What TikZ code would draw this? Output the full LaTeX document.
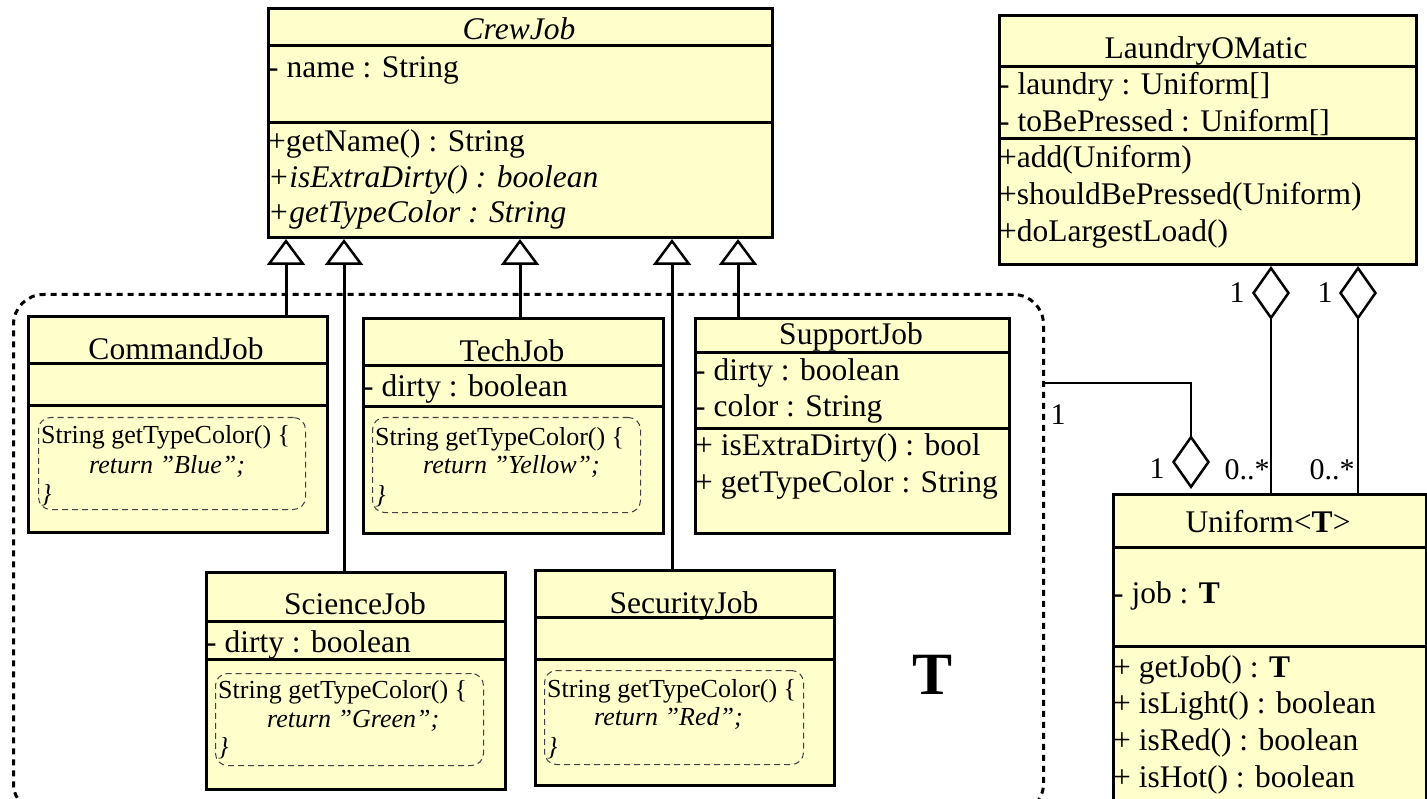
\documentclass[tikz,border=0pt]{standalone}
\usepackage{fontspec}
\setmainfont{Liberation Serif}
\usetikzlibrary{arrows.meta}
\definecolor{umlfill}{HTML}{FFFFCC}
\newcommand\mainsz{\fontsize{31.5}{36}\selectfont}
\newcommand\codesz{\fontsize{26}{30}\selectfont}
\newcommand\lblsz{\fontsize{30}{34}\selectfont}
\begin{document}
\begin{tikzpicture}[x=1pt,y=-1pt,
  box/.style={draw, line width=3pt, fill=umlfill, anchor=north west, inner sep=0},
  div/.style={line width=3pt},
  txt/.style={anchor=base west, inner sep=0, font=\mainsz},
  ttl/.style={anchor=base, inner sep=0, font=\mainsz},
  code/.style={anchor=base west, inner sep=0, font=\codesz},
  codebox/.style={draw=black!75, line width=1pt, dash pattern=on 6pt off 4pt, rounded corners=12pt, anchor=north west, inner sep=0},
  inh/.style={line width=3pt, -{Triangle[open, length=26pt, width=38pt, line width=2.5pt]}},
  agg/.style={line width=2pt, {Diamond[open, length=54pt, width=38pt, line width=2.5pt]}-},
  grp/.style={draw, line width=3pt, dash pattern=on 6pt off 5pt, rounded corners=30pt, anchor=north west, inner sep=0},
  lbl/.style={inner sep=0, font=\lblsz}]
\useasboundingbox (0,0) rectangle (1427,799);

% group
\node[grp, minimum width=1030pt, minimum height=519pt] (grp) at (12,293) {};

% CrewJob
\node[box, minimum width=504pt, minimum height=229pt] (crew) at (267,7) {};
\draw[div] (267,46) -- (771,46);
\draw[div] (267,123) -- (771,123);
\node[ttl, font=\mainsz\itshape] (crewt) at (519,40) {CrewJob};
\node[txt] (crewa) at (268,78) {- name : String};
\node[txt] (crewm1) at (268,152) {+getName() : String};
\node[txt, font=\mainsz\itshape] (crewm2) at (268,188) {+isExtraDirty() : boolean};
\node[txt, font=\mainsz\itshape] (crewm3) at (268,223) {+getTypeColor : String};

% CommandJob
\node[box, minimum width=299pt, minimum height=216pt] (cmd) at (27,315) {};
\draw[div] (27,364) -- (326,364);
\draw[div] (27,406) -- (326,406);
\node[ttl] (cmdt) at (176,360) {CommandJob};
\node[codebox, minimum width=267pt, minimum height=92pt] (cmdc) at (38,417) {};
\node[code] (cmdc1) at (41,443) {String getTypeColor() \{};
\node[code, font=\codesz\itshape] (cmdc2) at (89,473) {return ”Blue”;};
\node[code, font=\codesz\itshape] (cmdc3) at (41,502) {\}};

% TechJob
\node[box, minimum width=300pt, minimum height=215pt] (tech) at (362,317) {};
\draw[div] (362,366) -- (662,366);
\draw[div] (362,407) -- (662,407);
\node[ttl] (techt) at (512,362) {TechJob};
\node[txt] (techa) at (363,397) {- dirty : boolean};
\node[codebox, minimum width=268pt, minimum height=95pt] (techc) at (372,417) {};
\node[code] (techc1) at (375,445) {String getTypeColor() \{};
\node[code, font=\codesz\itshape] (techc2) at (423,473) {return ”Yellow”;};
\node[code, font=\codesz\itshape] (techc3) at (375,503) {\}};

% SupportJob
\node[box, minimum width=314pt, minimum height=215pt] (sup) at (694,317) {};
\draw[div] (694,353) -- (1008,353);
\draw[div] (694,428) -- (1008,428);
\node[ttl] (supt) at (851,345) {SupportJob};
\node[txt] (supa1) at (695,381) {- dirty : boolean};
\node[txt] (supa2) at (695,417) {- color : String};
\node[txt] (supm1) at (695,455) {+ isExtraDirty() : bool};
\node[txt] (supm2) at (695,492) {+ getTypeColor : String};

% ScienceJob
\node[box, minimum width=299pt, minimum height=217pt] (sci) at (205,571) {};
\draw[div] (205,621) -- (504,621);
\draw[div] (205,659) -- (504,659);
\node[ttl] (scit) at (355,614) {ScienceJob};
\node[txt] (scia) at (206,652) {- dirty : boolean};
\node[codebox, minimum width=268pt, minimum height=92pt] (scic) at (215,673) {};
\node[code] (scic1) at (218,698) {String getTypeColor() \{};
\node[code, font=\codesz\itshape] (scic2) at (267,727) {return ”Green”;};
\node[code, font=\codesz\itshape] (scic3) at (218,755) {\}};

% SecurityJob
\node[box, minimum width=299pt, minimum height=215pt] (sec) at (534,569) {};
\draw[div] (534,617) -- (833,617);
\draw[div] (534,659) -- (833,659);
\node[ttl] (sect) at (684,613) {SecurityJob};
\node[codebox, minimum width=259pt, minimum height=94pt] (secc) at (544,670) {};
\node[code] (secc1) at (547,697) {String getTypeColor() \{};
\node[code, font=\codesz\itshape] (secc2) at (594,725) {return ”Red”;};
\node[code, font=\codesz\itshape] (secc3) at (547,755) {\}};

% big T
\node[inner sep=0, font=\bfseries\fontsize{60}{60}\selectfont] (tee) at (932,675) {T};

% LaundryOMatic
\node[box, minimum width=417pt, minimum height=249pt] (lau) at (998,14) {};
\draw[div] (998,67) -- (1415,67);
\draw[div] (998,139) -- (1415,139);
\node[ttl] (laut) at (1206,59) {LaundryOMatic};
\node[txt] (laua1) at (999,95) {- laundry : Uniform[]};
\node[txt] (laua2) at (999,132) {- toBePressed : Uniform[]};
\node[txt] (laum1) at (999,168) {+add(Uniform)};
\node[txt] (laum2) at (999,205) {+shouldBePressed(Uniform)};
\node[txt] (laum3) at (999,242) {+doLargestLoad()};

% Uniform
\node[box, minimum width=313pt, minimum height=340pt] (uni) at (1112,493) {};
\draw[div] (1112,547) -- (1425,547);
\draw[div] (1112,646) -- (1425,646);
\node[ttl] (unit) at (1268,532) {Uniform<\textbf{T}>};
\node[txt] (unia) at (1113,603) {- job : \textbf{T}};
\node[txt] (unim1) at (1113,677) {+ getJob() : \textbf{T}};
\node[txt] (unim2) at (1113,713) {+ isLight() : boolean};
\node[txt] (unim3) at (1113,750) {+ isRed() : boolean};
\node[txt] (unim4) at (1113,787) {+ isHot() : boolean};

% inheritance
\coordinate (x1) at (286,0);
\coordinate (x2) at (344,0);
\coordinate (x3) at (520,0);
\coordinate (x4) at (672,0);
\coordinate (x5) at (738,0);
\draw[inh] (cmd.north -| x1) -- (crew.south -| x1);
\draw[inh] (sci.north -| x2) -- (crew.south -| x2);
\draw[inh] (tech.north -| x3) -- (crew.south -| x3);
\draw[inh] (sec.north -| x4) -- (crew.south -| x4);
\draw[inh] (sup.north -| x5) -- (crew.south -| x5);

% aggregations
\coordinate (d1) at (1271,0);
\coordinate (d2) at (1358,0);
\coordinate (h) at (1191,383);
\draw[agg] (lau.south -| d1) -- (uni.north -| d1);
\draw[agg] (lau.south -| d2) -- (uni.north -| d2);
\draw[agg, shorten <=4pt] (uni.north -| h) -- (h) -- (grp.east |- h);

% labels
\node[lbl] (l1) at (1237,293) {1};
\node[lbl] (l2) at (1325,293) {1};
\node[lbl] (l3) at (1247,470) {0..*};
\node[lbl] (l4) at (1332,470) {0..*};
\node[lbl] (l5) at (1058,415) {1};
\node[lbl] (l6) at (1157,469) {1};
\end{tikzpicture}
\end{document}
